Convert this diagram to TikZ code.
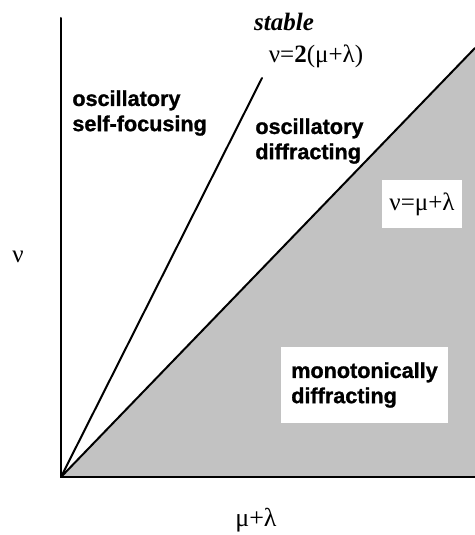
\documentclass[tikz,border=0pt]{standalone}
\usepackage{fontspec}
\setmainfont{Liberation Serif}
\newfontfamily\regionfont[BoldFeatures={FakeBold=1.2}]{Liberation Sans}
\usetikzlibrary{positioning}

\begin{document}
\begin{tikzpicture}[x=0.5pt,y=-0.5pt]
\tikzset{
  axisline/.style={draw=black,line width=1pt,line cap=round},
  boundary/.style={draw=black,line width=1pt,line cap=round},
  regionlabel/.style={inner sep=0pt,align=left,font=\regionfont\bfseries\fontsize{10.8}{12.6}\selectfont},
  greeklabel/.style={inner sep=0pt,font=\fontsize{12.5}{14}\selectfont},
  whitebox/.style={fill=white,draw=none}
}
\useasboundingbox (0,0) rectangle (475,535);
\coordinate (o) at (61,477);
\coordinate (ytop) at (61,18);
\coordinate (xend) at (475,477);
\coordinate (diagend) at (475,48);
\coordinate (steepend) at (262,78);
% shaded region below nu = mu + lambda
\fill[black!24] (o) -- (diagend) -- (xend) -- cycle;
\draw[axisline] (ytop) -- (o) -- (xend);
\draw[boundary] (o) -- (diagend);
\draw[boundary] (o) -- (steepend);
% labels
\node[greeklabel] (nu) at (18,257) {ν};
\node[greeklabel,font=\fontsize{13}{15}\selectfont] (mulam) at (256,520) {μ+λ};
\node[inner sep=0pt,font=\bfseries\itshape\fontsize{12.5}{14}\selectfont] (stable) at (284,22) {stable};
\node[greeklabel] (steeplabel) at (316,56) {ν=\textbf{2}(μ+λ)};
\node[regionlabel,anchor=west] (selffoc) at (72,113) {oscillatory\\self-focusing};
\node[regionlabel,anchor=west] (oscdiff) at (255,141) {oscillatory\\diffracting};
\node[greeklabel,whitebox,minimum width=40pt,minimum height=24pt] (diaglabel) at (422,204) {ν=μ+λ};
\node[regionlabel,whitebox,inner xsep=5pt,inner ysep=7.5pt] (monodiff) at (364.5,385) {monotonically\\diffracting};
\end{tikzpicture}
\end{document}
